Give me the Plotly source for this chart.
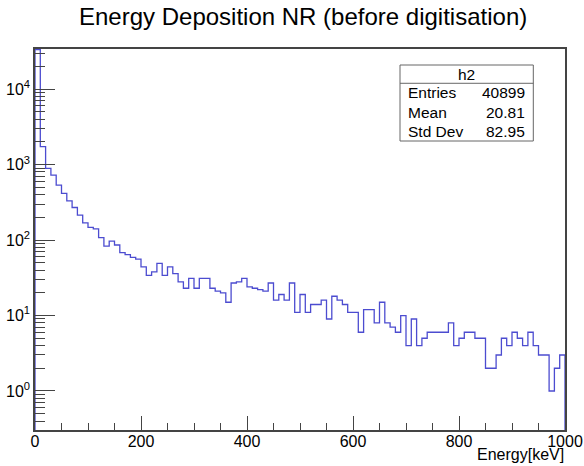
import numpy as np
import plotly.graph_objects as go

# Histogram "h2": 100 bins of 10 keV between 0 and 1000 keV
bin_low = 0.0
bin_high = 1000.0
n_bins = 100

counts = [
    33518, 1730, 890, 726, 535, 415, 331, 270, 214, 169,
    147, 141, 108, 83, 97, 86, 68, 64, 59, 56,
    44, 34, 38, 49, 34, 44, 36, 28, 23, 31,
    23, 31, 31, 23, 21, 20, 15, 27, 28, 31,
    24, 23, 22, 21, 27, 16, 19, 16, 27, 11,
    19, 11, 14, 14, 16, 9, 18, 16, 14, 11,
    11, 6, 12, 12, 8, 15, 8, 7, 6, 10,
    4, 9, 4, 5, 6, 6, 6, 6, 8, 4,
    5, 6, 6, 5, 5, 2, 2, 3, 5, 4,
    6, 5, 4, 6, 4, 3, 3, 1, 2, 3,
]

# Statistics printed in the stats box (mean / std dev come from the unbinned fill values)
stats_name = "h2"
stats_mean = "20.81"
stats_std = "82.95"

title_text = "Energy Deposition NR (before digitisation)"
x_title = "Energy[keV]"
x_major = [0, 200, 400, 600, 800, 1000]
y_major = [1, 10, 100, 1000, 10000]
y_major_text = ["10<sup>0</sup>", "10<sup>1</sup>", "10<sup>2</sup>", "10<sup>3</sup>", "10<sup>4</sup>"]

# log10 range of the y axis
y_log_range = [-0.517, 4.532]

FONT = "Liberation Sans, Arial, Helvetica, sans-serif"
LINE_BLUE = "#4c4cd0"
AXIS_COL = "#444444"

edges = np.linspace(bin_low, bin_high, n_bins + 1)
baseline = 10 ** y_log_range[0]
entries = int(np.sum(counts))

# Outline of the histogram as a step line, closed down to the axis at both ends
step_x = [edges[0]] + list(edges[:-1]) + [edges[-1], edges[-1]]
step_y = [baseline] + list(counts) + [counts[-1], baseline]

fig = go.Figure()
fig.add_trace(go.Scatter(
    x=step_x, y=step_y, mode="lines", line_shape="hv",
    line=dict(color=LINE_BLUE, width=1.3),
    hoverinfo="skip", showlegend=False,
))
# Invisible copy so that the minor-tick axes are drawn
fig.add_trace(go.Scatter(
    x=step_x, y=step_y, mode="lines", xaxis="x2", yaxis="y2",
    line=dict(width=0), opacity=0, hoverinfo="skip", showlegend=False,
))

minor_x = [v for v in np.arange(bin_low, bin_high + 1, 50)]
minor_y = [m * 10.0 ** d for d in range(-1, 5) for m in range(2, 10)
           if y_log_range[0] < np.log10(m * 10.0 ** d) < y_log_range[1]]

fig.update_layout(
    width=584, height=466,
    margin=dict(l=35, r=19, t=49, b=36, autoexpand=False),
    paper_bgcolor="white", plot_bgcolor="white",
    font=dict(family=FONT, color="black"),
    xaxis=dict(
        range=[bin_low, bin_high], tickvals=x_major, ticks="inside", ticklen=14,
        tickcolor=AXIS_COL, tickwidth=1.2, showline=True, linecolor=AXIS_COL,
        linewidth=1.5, mirror=True, showgrid=False, zeroline=False,
        automargin=False, ticklabelstandoff=-4,
        tickfont=dict(size=16, family=FONT, color="black"),
    ),
    xaxis2=dict(
        range=[bin_low, bin_high], overlaying="x", anchor="y", side="bottom",
        tickvals=minor_x, ticks="inside", ticklen=7, tickcolor=AXIS_COL,
        tickwidth=1.2, showticklabels=False, showline=False, showgrid=False,
        zeroline=False, automargin=False,
    ),
    yaxis=dict(
        type="log", range=y_log_range, tickvals=y_major, ticktext=y_major_text,
        ticks="inside", ticklen=20, tickcolor=AXIS_COL, tickwidth=1.2,
        showline=True, linecolor=AXIS_COL, linewidth=1.5, mirror=True,
        showgrid=False, zeroline=False, automargin=False,
        tickfont=dict(size=16, family=FONT, color="black"),
    ),
    yaxis2=dict(
        type="log", range=y_log_range, overlaying="y", anchor="x", side="left",
        tickvals=minor_y, ticks="inside", ticklen=10, tickcolor=AXIS_COL,
        tickwidth=1.2, showticklabels=False, showline=False, showgrid=False,
        zeroline=False, automargin=False,
    ),
)

# Title and axis title
fig.add_annotation(
    text=title_text, xref="paper", yref="paper", x=0.506, y=1.084,
    xanchor="center", yanchor="middle", showarrow=False,
    font=dict(size=24, family=FONT, color="black"),
)
fig.add_annotation(
    text=x_title, xref="paper", yref="paper", x=1.002, y=-0.064,
    xanchor="right", yanchor="middle", showarrow=False,
    font=dict(size=16, family=FONT, color="black"),
)

# Stats box
bx0, bx1 = 0.6887, 0.9402
by0, by1 = 0.7585, 0.958
bsep = 0.910
fig.add_shape(type="rect", xref="paper", yref="paper", x0=bx0, x1=bx1, y0=by0, y1=by1,
              line=dict(color="#666666", width=1), fillcolor="white", layer="above")
fig.add_shape(type="line", xref="paper", yref="paper", x0=bx0, x1=bx1, y0=bsep, y1=bsep,
              line=dict(color="#666666", width=1), layer="above")

stat_font = dict(size=15.5, family=FONT, color="black")
fig.add_annotation(text=stats_name, xref="paper", yref="paper", x=(bx0 + bx1) / 2,
                   y=(by1 + bsep) / 2, xanchor="center", yanchor="middle",
                   showarrow=False, font=stat_font)
rows = [("Entries", str(entries)), ("Mean", stats_mean), ("Std Dev", stats_std)]
row_h = (bsep - by0) / 3
for i, (lab, val) in enumerate(rows):
    yc = bsep - row_h * (i + 0.5)
    fig.add_annotation(text=lab, xref="paper", yref="paper", x=bx0 + 0.011, y=yc,
                       xanchor="left", yanchor="middle", showarrow=False, font=stat_font)
    fig.add_annotation(text=val, xref="paper", yref="paper", x=bx1 - 0.012, y=yc,
                       xanchor="right", yanchor="middle", showarrow=False, font=stat_font)

fig.write_html("out.html")
